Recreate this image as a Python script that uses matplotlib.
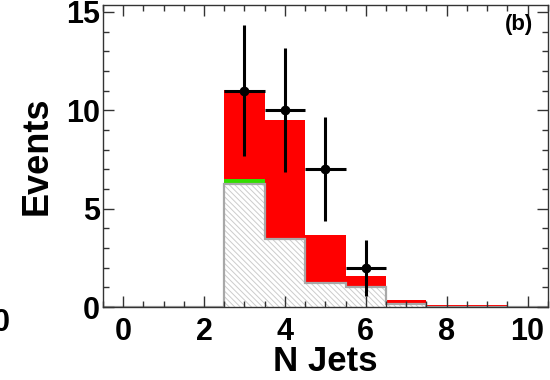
import numpy as np
import matplotlib
matplotlib.use("Agg")
import matplotlib.pyplot as plt
from matplotlib.ticker import MultipleLocator

plt.rcParams["font.family"] = ["Liberation Sans", "DejaVu Sans"]
plt.rcParams["font.weight"] = "bold"
plt.rcParams["hatch.linewidth"] = 0.7

# stacked histogram, one bin per jet multiplicity
n_jets = [0, 1, 2, 3, 4, 5, 6, 7, 8, 9, 10]
bkg_gray = [0, 0, 0, 6.25, 3.45, 1.2, 1.03, 0.17, 0.0, 0.0, 0.0]
bkg_green = [0, 0, 0, 0.28, 0.06, 0.08, 0.03, 0.02, 0.01, 0.01, 0.0]
signal_red = [0, 0, 0, 4.5, 6.0, 2.4, 0.5, 0.15, 0.09, 0.08, 0.0]

# data points
data_x = [3, 4, 5, 6]
data_y = [11, 10, 7, 2]

edges = np.arange(len(n_jets) + 1) - 0.5
gray = np.array(bkg_gray)
green = gray + np.array(bkg_green)
red = green + np.array(signal_red)

fig = plt.figure(figsize=(5.5, 3.8), dpi=100)
ax = fig.add_axes([0.187, 0.192, 0.809, 0.795])

ax.stairs(red, edges, baseline=green, fill=True, color="#ff0000", lw=0)
ax.stairs(green, edges, baseline=gray, fill=True, color="#33dd00", lw=0)
ax.stairs(gray, edges, baseline=0, fill=True, facecolor="white",
          edgecolor="#cccccc", hatch="\\\\\\\\\\\\", lw=0)
ax.stairs(gray, edges, baseline=0, fill=False, color="#a8a8a8", lw=1.6)

ax.errorbar(data_x, data_y, yerr=np.sqrt(data_y), xerr=0.5, fmt="o",
            color="black", ms=6, lw=2.2, capsize=0, zorder=5)

ax.set_xlim(-0.5, 10.5)
ax.set_ylim(0, 15.35)
ax.xaxis.set_major_locator(MultipleLocator(2))
ax.xaxis.set_minor_locator(MultipleLocator(0.5))
ax.yaxis.set_major_locator(MultipleLocator(5))
ax.yaxis.set_minor_locator(MultipleLocator(1))
ax.tick_params(which="both", direction="in", top=True, right=True,
               color="#333333", width=1)
ax.tick_params(which="major", length=8, labelsize=22)
ax.tick_params(which="minor", length=4)
ax.tick_params(axis="x", pad=7)
ax.tick_params(axis="y", pad=2)
for s in ax.spines.values():
    s.set_color("#333333")
    s.set_linewidth(1)

ax.set_xlabel("N Jets", fontsize=25, fontweight="bold", labelpad=-1)
ax.set_ylabel("Events", fontsize=26, fontweight="bold", labelpad=8)
ax.text(0.966, 0.934, "(b)", transform=ax.transAxes, ha="right", va="center",
        fontsize=16, fontweight="bold")

# edge of a neighbouring panel's tick label
fig.text(0.018, 0.15, "0", ha="right", va="center", fontsize=22,
         fontweight="bold")

fig.savefig("out.png", dpi=100)
